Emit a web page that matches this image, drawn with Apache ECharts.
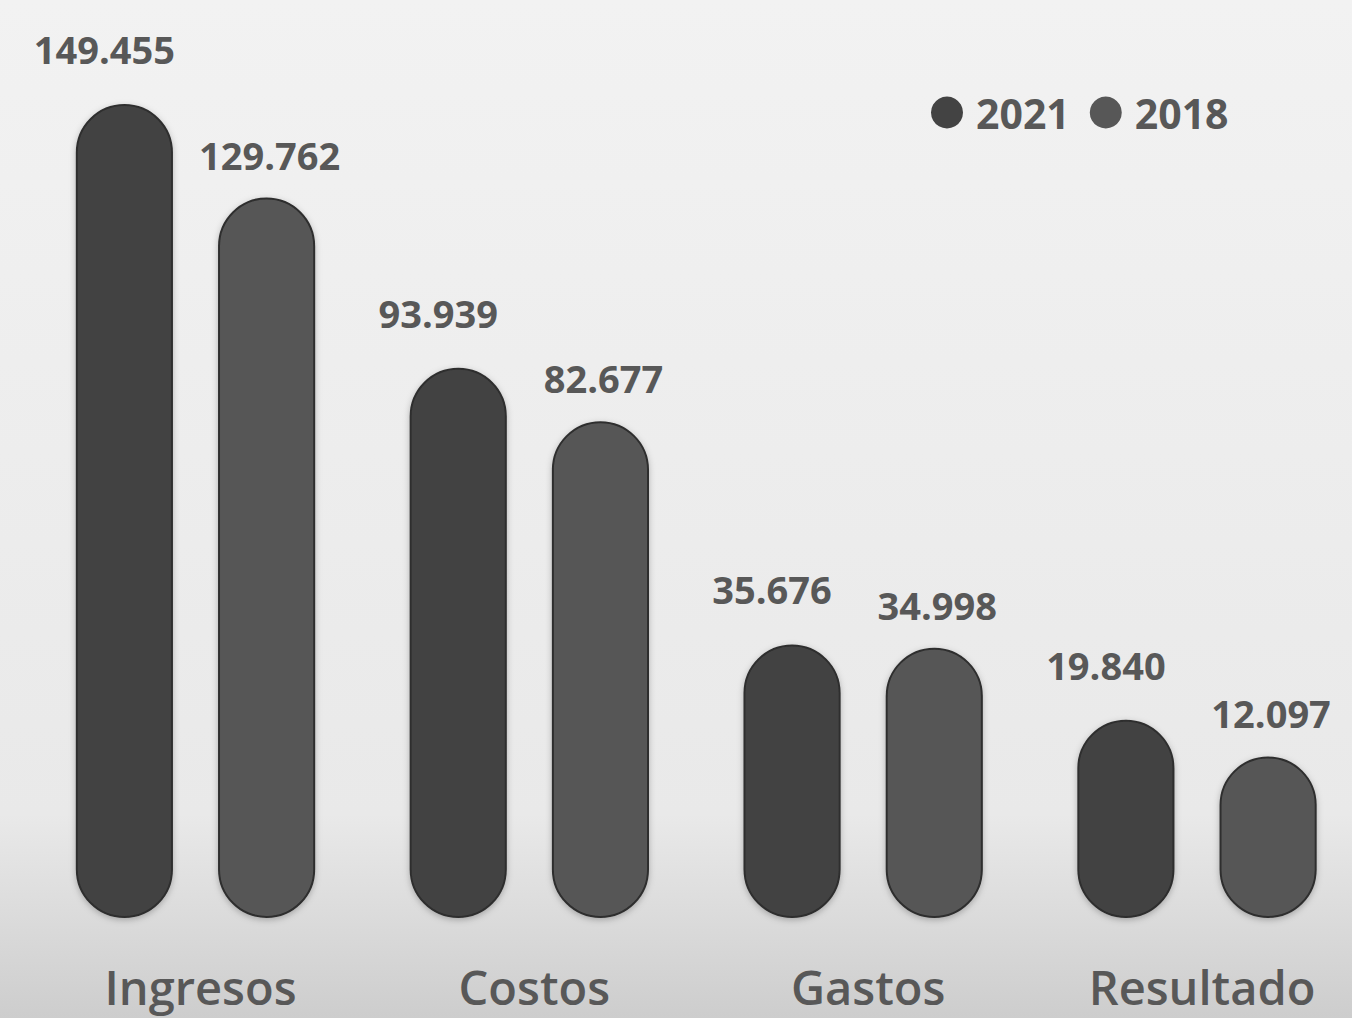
<!DOCTYPE html>
<html>
<head>
<meta charset="utf-8">
<script src="https://cdn.jsdelivr.net/npm/echarts@6/dist/echarts.min.js"></script>
<style>
html,body{margin:0;padding:0;}
#chart{width:1352px;height:1018px;}
</style>
</head>
<body>
<div id="chart"></div>
<script>
const categories = ['Ingresos', 'Costos', 'Gastos', 'Resultado'];
const seriesNames = ['2021', '2018'];
const values2021 = [149455, 93939, 35676, 19840];
const values2018 = [129762, 82677, 34998, 12097];

const Y_MIN = -21500;
const Y_MAX = 160000;
const TXT = '#585858';
const FONT = '"Open Sans", "Noto Sans", sans-serif';

function fmt(v) {
  return String(v).replace(/\B(?=(\d{3})+(?!\d))/g, '.');
}

function makeRender(side, fill, dx, dy) {
  return function (params, api) {
    const ci = api.value(0);
    const v = api.value(1);
    const top = api.coord([ci, v]);
    const bot = api.coord([ci, Y_MIN]);
    const band = api.size([1, 0])[0];
    const w = band * 0.285;
    const cx = top[0] + side * band * 0.213;
    return {
      type: 'group',
      children: [
        {
          type: 'rect',
          shape: { x: cx - w / 2, y: top[1], width: w, height: bot[1] - top[1], r: w / 2 },
          style: { fill: fill, stroke: '#2e2e2e', lineWidth: 2, shadowBlur: 6, shadowColor: 'rgba(0,0,0,0.25)', shadowOffsetY: 2 }
        },
        {
          type: 'text',
          style: {
            text: fmt(v), x: cx + dx, y: top[1] - dy,
            align: 'center', verticalAlign: 'middle',
            fill: TXT, fontSize: 38, fontWeight: 'bold', fontFamily: FONT
          }
        }
      ]
    };
  };
}

const chart = echarts.init(document.getElementById('chart'), null, { renderer: 'svg' });
chart.setOption({
  backgroundColor: {
    type: 'linear', x: 0, y: 0, x2: 0, y2: 1,
    colorStops: [
      { offset: 0, color: '#f2f2f2' },
      { offset: 0.8, color: '#e9e9e9' },
      { offset: 0.88, color: '#dedede' },
      { offset: 1, color: '#cdcdcd' }
    ]
  },
  animation: false,
  legend: {
    left: 926, top: 87,
    icon: 'circle', itemWidth: 32, itemHeight: 32, itemGap: 20,
    textStyle: { color: TXT, fontSize: 41, fontWeight: 'bold', fontFamily: FONT, padding: [0, 0, 0, 8] },
    data: seriesNames
  },
  grid: { left: 195.5, width: 1001.5, top: 55, bottom: 101 },
  xAxis: {
    type: 'category', data: categories, boundaryGap: false,
    axisLine: { show: false }, axisTick: { show: false },
    axisLabel: { interval: 0, color: TXT, fontSize: 47, fontWeight: 600, fontFamily: FONT, margin: 46, padding: [0, 0, 0, 10] }
  },
  yAxis: {
    type: 'value', min: Y_MIN, max: Y_MAX, show: false, splitLine: { show: false }
  },
  series: [
    {
      name: seriesNames[0], type: 'custom', clip: false,
      itemStyle: { color: '#434343' },
      renderItem: makeRender(-1, '#434343', -20, 56),
      data: values2021.map((v, i) => [i, v])
    },
    {
      name: seriesNames[1], type: 'custom', clip: false,
      itemStyle: { color: '#575757' },
      renderItem: makeRender(1, '#575757', 3, 44),
      data: values2018.map((v, i) => [i, v])
    }
  ]
});
</script>
</body>
</html>
